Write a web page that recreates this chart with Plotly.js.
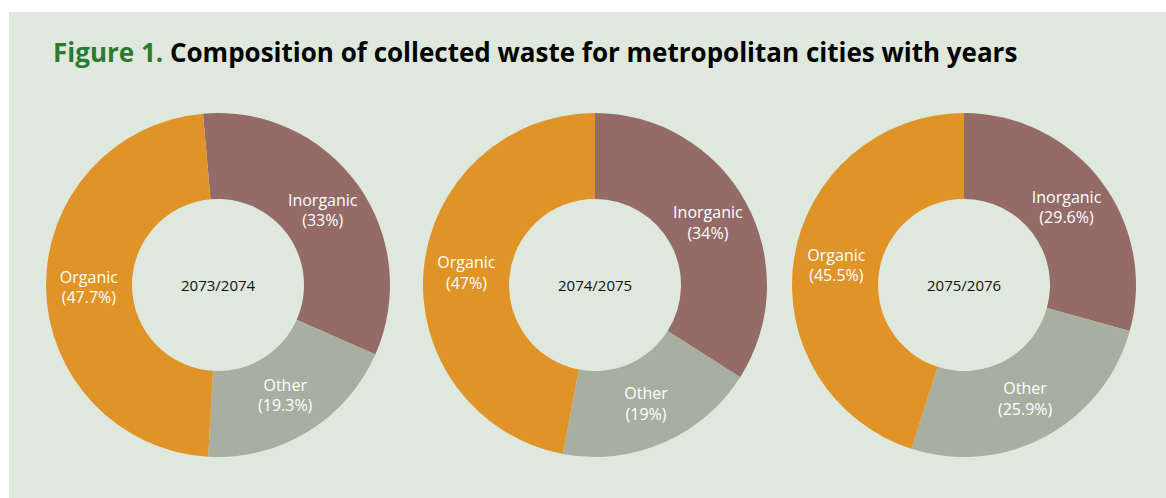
<!DOCTYPE html>
<html>
<head>
<meta charset="utf-8">
<script src="https://cdn.plot.ly/plotly-3.0.1.min.js"></script>
<style>
html,body{margin:0;padding:0;background:#ffffff;width:1166px;height:498px;overflow:hidden;}
#chart{position:absolute;left:9px;top:12px;width:1157px;height:486px;}
</style>
</head>
<body>
<div id="chart"></div>
<script>
const categories = ["Inorganic", "Other", "Organic"];
const years = ["2073/2074", "2074/2075", "2075/2076"];
const values2073 = [33, 19.3, 47.7];
const values2074 = [34, 19, 47];
const values2075 = [29.6, 25.9, 45.5];
const seriesValues = [values2073, values2074, values2075];
const colors = ["#946b67", "#a8afa0", "#e09428"];
const rotations = [-5, 0, 0];

const W = 1157, H = 486;
const centersX = [209, 586, 955];
const centerY = 273;
const R = 172;

const traces = seriesValues.map((vals, i) => ({
  type: "pie",
  labels: categories,
  values: vals,
  text: vals.map((v, j) => categories[j] + "<br>(" + v + "%)"),
  textinfo: "text",
  textposition: "inside",
  insidetextorientation: "horizontal",
  textfont: {family: "Open Sans, sans-serif", size: 16, color: "#ffffff"},
  hole: 0.5,
  sort: false,
  direction: "clockwise",
  rotation: rotations[i],
  marker: {colors: colors, line: {width: 0}},
  showlegend: false,
  hoverinfo: "label+value",
  domain: {
    x: [(centersX[i] - R) / W, (centersX[i] + R) / W],
    y: [(H - centerY - R) / H, (H - centerY + R) / H]
  }
}));

const annotations = years.map((y, i) => ({
  text: y,
  x: centersX[i] / W,
  y: 1 - centerY / H,
  xref: "paper", yref: "paper",
  xanchor: "center", yanchor: "middle",
  showarrow: false,
  font: {family: "Open Sans, sans-serif", size: 15, color: "#111111"}
}));

annotations.push({
  text: '<span style="color:#2a7a2f">Figure 1.</span> Composition of collected waste for metropolitan cities with years',
  x: 42 / W,
  y: 1 - 40 / H,
  xref: "paper", yref: "paper",
  xanchor: "left", yanchor: "middle",
  showarrow: false,
  font: {family: "Open Sans, sans-serif", size: 26, color: "#000000", weight: 700}
});

const layout = {
  width: W,
  height: H,
  margin: {l: 0, r: 0, t: 0, b: 0},
  paper_bgcolor: "#dfe8dd",
  plot_bgcolor: "#dfe8dd",
  annotations: annotations
};

Plotly.newPlot("chart", traces, layout, {displayModeBar: false, staticPlot: true});
</script>
</body>
</html>
